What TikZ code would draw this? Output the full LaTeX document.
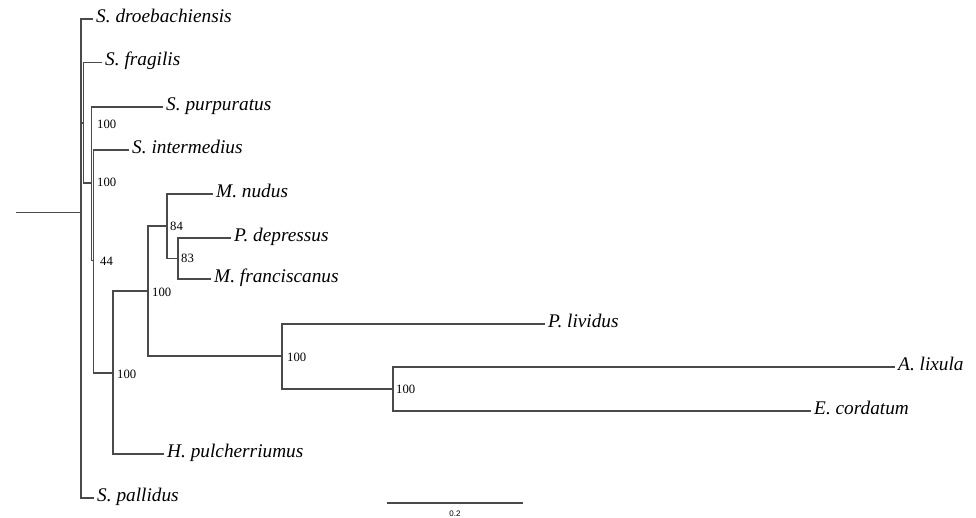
\documentclass[tikz,border=0pt]{standalone}
\usepackage{fontspec}
\setmainfont{Liberation Serif}
\newfontfamily\barfont{Liberation Sans}
\definecolor{branch}{HTML}{4A4A4A}
\begin{document}
\begin{tikzpicture}[x=1pt,y=-1pt,
  edge/.style={draw=branch,line width=1.4pt,line cap=rect},
  taxon/.style={anchor=west,inner xsep=4pt,inner ysep=0pt,
    font=\fontsize{19.3}{20}\selectfont\itshape,text height=0.86em,text depth=0.2em},
  support/.style={anchor=west,inner sep=0pt,
    font=\fontsize{12.7}{13}\selectfont,text height=0.68em,text depth=0pt}]
\useasboundingbox (0,0) rectangle (976,517);

% internal nodes
\coordinate (stem) at (17,212.5);
\coordinate (root) at (81,212.5);
\coordinate (n1) at (83.3,123);
\coordinate (na) at (91.5,183);
\coordinate (nb) at (93.3,260.5);
\coordinate (nc) at (113,373);
\coordinate (nd) at (148,291);
\coordinate (ne) at (167,226);
\coordinate (ng) at (178,258.5);
\coordinate (nf) at (282,356);
\coordinate (nh) at (393,389);

% leaves
\node[taxon] (droe) at (92,19) {S. droebachiensis};
\node[taxon] (frag) at (101,62.5) {S. fragilis};
\node[taxon] (purp) at (162,107) {S. purpuratus};
\node[taxon] (inter) at (128,150) {S. intermedius};
\node[taxon] (nudus) at (212,194) {M. nudus};
\node[taxon] (depr) at (230,238) {P. depressus};
\node[taxon] (fran) at (210,279) {M. franciscanus};
\node[taxon] (livi) at (544,324) {P. lividus};
\node[taxon] (lixu) at (894,367) {A. lixula};
\node[taxon] (cord) at (810,411) {E. cordatum};
\node[taxon] (pulc) at (163,454) {H. pulcherriumus};
\node[taxon] (pall) at (93,498) {S. pallidus};

% branches
\draw[edge] (stem) -- (root);
\draw[edge] (root |- droe.west) -- (droe.west);
\draw[edge] (root |- droe.west) -- (root |- pall.west) -- (pall.west);
\draw[edge] (root |- n1) -- (n1);
\draw[edge] (n1) |- (frag.west);
\draw[edge] (n1) |- (na);
\draw[edge] (na) |- (purp.west);
\draw[edge] (na |- nb) -- (nb);
\draw[edge] (na) -- (na |- nb);
\draw[edge] (nb) |- (inter.west);
\draw[edge] (nb) |- (nc);
\draw[edge] (nc) |- (nd);
\draw[edge] (nc) |- (pulc.west);
\draw[edge] (nd) |- (ne);
\draw[edge] (nd) |- (nf);
\draw[edge] (ne) |- (nudus.west);
\draw[edge] (ne) |- (ng);
\draw[edge] (ng) |- (depr.west);
\draw[edge] (ng) |- (fran.west);
\draw[edge] (nf) |- (livi.west);
\draw[edge] (nf) |- (nh);
\draw[edge] (nh) |- (lixu.west);
\draw[edge] (nh) |- (cord.west);

% bootstrap support
\node[support] (s1) at (97,125) {100};
\node[support] (sa) at (97,183) {100};
\node[support] (sb) at (100,262) {44};
\node[support] (sc) at (117,375) {100};
\node[support] (sd) at (152,293) {100};
\node[support] (se) at (170,227) {84};
\node[support] (sg) at (181,259) {83};
\node[support] (sf) at (287,358) {100};
\node[support] (sh) at (396,390) {100};

% scale bar
\coordinate (barl) at (387,503);
\coordinate (barr) at (523,503);
\draw[edge,line cap=butt] (barl) -- (barr);
\node[inner sep=0pt,font=\barfont\fontsize{8}{9}\selectfont] (barlab) at (455,514) {0.2};
\end{tikzpicture}
\end{document}
